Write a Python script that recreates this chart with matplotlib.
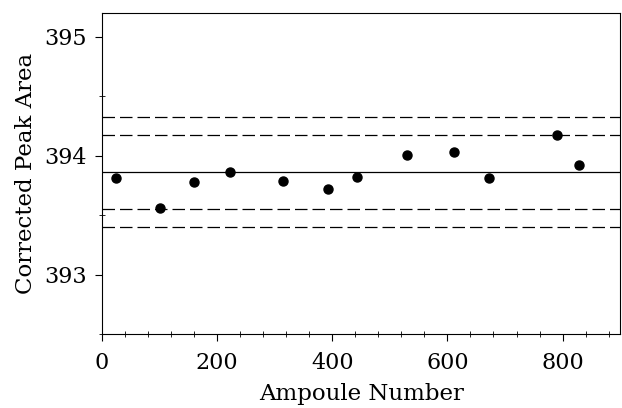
import matplotlib
matplotlib.use("Agg")
import matplotlib.pyplot as plt
from matplotlib.ticker import MultipleLocator

ampoule = [25, 100, 160, 223, 315, 393, 443, 529, 611, 673, 791, 828]
peak_area = [393.81, 393.56, 393.78, 393.86, 393.79, 393.72, 393.82,
             394.01, 394.03, 393.81, 394.175, 393.92]

mean_line = 393.865
inner_limits = [393.555, 394.175]
outer_limits = [393.40, 394.33]

plt.rcParams['font.family'] = ['DejaVu Serif']

fig = plt.figure(figsize=(6.22, 4.08), dpi=100)
ax = fig.add_axes([0.164, 0.181, 0.833, 0.787])

ax.plot(ampoule, peak_area, 'o', color='black', markersize=6.5)
ax.axhline(mean_line, color='black', lw=0.9)
for y in inner_limits + outer_limits:
    ax.axhline(y, color='black', lw=0.9, dashes=(10, 4))

ax.set_xlim(0, 900)
ax.set_ylim(392.5, 395.2)
ax.xaxis.set_major_locator(MultipleLocator(200))
ax.xaxis.set_minor_locator(MultipleLocator(40))
ax.yaxis.set_major_locator(MultipleLocator(1))
ax.yaxis.set_minor_locator(MultipleLocator(0.5))
ax.tick_params(which='major', direction='out', length=5, labelsize=16, pad=8)
ax.tick_params(axis='y', which='major', pad=6)
ax.tick_params(which='minor', direction='inout', length=4)

ax.set_xlabel('Ampoule Number', fontsize=16.5, labelpad=6)
ax.set_ylabel('Corrected Peak Area', fontsize=16.5, labelpad=5)

fig.savefig('out.png', dpi=100)
